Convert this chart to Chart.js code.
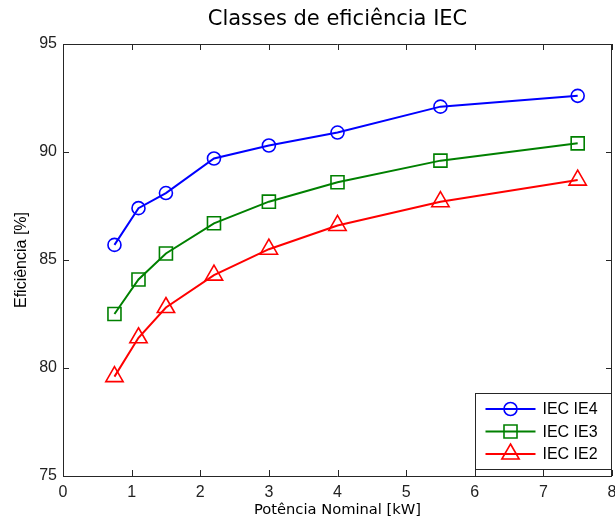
<!DOCTYPE html>
<html><head><meta charset="utf-8">
<script src="https://cdn.jsdelivr.net/npm/chart.js@4/dist/chart.umd.min.js"></script>
<style>html,body{margin:0;padding:0;background:#fff}</style>
</head><body>
<canvas id="c" width="615" height="520"></canvas>
<script>
const powerKW = [0.75, 1.1, 1.5, 2.2, 3, 4, 5.5, 7.5];
const ie4 = [85.7, 87.4, 88.1, 89.7, 90.3, 90.9, 92.1, 92.6];
const ie3 = [82.5, 84.1, 85.3, 86.7, 87.7, 88.6, 89.6, 90.4];
const ie2 = [79.6, 81.4, 82.8, 84.3, 85.5, 86.6, 87.7, 88.7];
const seriesNames = ['IEC IE4', 'IEC IE3', 'IEC IE2'];
const xTicks = [0, 1, 2, 3, 4, 5, 6, 7, 8];
const yTicks = [75, 80, 85, 90, 95];

const toPts = arr => powerKW.map((x, i) => ({x: x, y: arr[i]}));
const styles = [
  {color: '#0000ff', style: 'circle', r: 6.5},
  {color: '#008000', style: 'rect', r: 9.2},
  {color: '#ff0000', style: 'triangle', r: 10}
];
const seriesData = [ie4, ie3, ie2];

const datasets = seriesData.map((arr, i) => ({
  label: seriesNames[i],
  data: toPts(arr),
  borderColor: styles[i].color,
  borderWidth: 2,
  pointStyle: styles[i].style,
  pointRadius: styles[i].r,
  pointHoverRadius: styles[i].r,
  pointBorderColor: styles[i].color,
  pointBorderWidth: 1.6,
  pointBackgroundColor: 'rgba(0,0,0,0)',
  tension: 0,
  fill: false,
  clip: false
}));

function drawMarker(ctx, style, x, y, r) {
  ctx.beginPath();
  if (style === 'circle') {
    ctx.arc(x, y, r, 0, Math.PI * 2);
  } else if (style === 'rect') {
    const s = Math.SQRT1_2 * r;
    ctx.rect(x - s, y - s, 2 * s, 2 * s);
  } else {
    let a = 0;
    ctx.moveTo(x + Math.sin(a) * r, y - Math.cos(a) * r);
    a += 2 * Math.PI / 3;
    ctx.lineTo(x + Math.sin(a) * r, y - Math.cos(a) * r);
    a += 2 * Math.PI / 3;
    ctx.lineTo(x + Math.sin(a) * r, y - Math.cos(a) * r);
    ctx.closePath();
  }
  ctx.stroke();
}

const boxPlugin = {
  id: 'boxPlugin',
  afterDatasetsDraw(chart) {
    const {ctx, chartArea: a, scales} = chart;
    ctx.save();
    ctx.strokeStyle = '#262626';
    ctx.lineWidth = 1;
    ctx.beginPath();
    ctx.rect(Math.round(a.left) + 0.5, Math.round(a.top) + 0.5,
             Math.round(a.right - a.left) - 1, Math.round(a.bottom - a.top));
    ctx.stroke();
    const tl = 6;
    ctx.beginPath();
    xTicks.forEach(v => {
      const px = Math.round(scales.x.getPixelForValue(v)) + 0.5;
      ctx.moveTo(px, a.bottom); ctx.lineTo(px, a.bottom - tl);
      ctx.moveTo(px, a.top); ctx.lineTo(px, a.top + tl);
    });
    yTicks.forEach(v => {
      const py = Math.round(scales.y.getPixelForValue(v)) + 0.5;
      ctx.moveTo(a.left, py); ctx.lineTo(a.left + tl, py);
      ctx.moveTo(a.right, py); ctx.lineTo(a.right - tl, py);
    });
    ctx.stroke();
    ctx.restore();
  },
  afterDraw(chart) {
    const {ctx, chartArea: a} = chart;
    const bw = 136, bh = 76;
    const bx = Math.round(a.right) - bw - 0.5, by = Math.round(a.bottom) - 7 - bh + 0.5;
    ctx.save();
    ctx.fillStyle = '#ffffff';
    ctx.fillRect(bx, by, bw, bh);
    ctx.strokeStyle = '#262626';
    ctx.lineWidth = 1;
    ctx.strokeRect(bx, by, bw, bh);
    ctx.font = '16px "Liberation Sans", Arial, sans-serif';
    ctx.textBaseline = 'middle';
    ctx.textAlign = 'left';
    chart.data.datasets.forEach((ds, i) => {
      const cy = by + 15.5 + i * 22.5;
      ctx.strokeStyle = ds.borderColor;
      ctx.lineWidth = 2;
      ctx.beginPath();
      ctx.moveTo(bx + 10, cy); ctx.lineTo(bx + 60, cy);
      ctx.stroke();
      ctx.lineWidth = 1.6;
      drawMarker(ctx, ds.pointStyle, bx + 35, cy, ds.pointRadius);
      ctx.fillStyle = '#000';
      ctx.fillText(ds.label, bx + 67, cy + 1);
    });
    ctx.restore();
  }
};

new Chart(document.getElementById('c'), {
  type: 'line',
  data: {datasets: datasets},
  plugins: [boxPlugin],
  options: {
    responsive: false,
    devicePixelRatio: 1,
    animation: false,
    layout: {autoPadding: false, padding: {top: 0, right: 3, left: 0, bottom: 0}},
    plugins: {
      legend: {display: false},
      tooltip: {enabled: false},
      title: {
        display: true,
        fullSize: false,
        text: 'Classes de eficiência IEC',
        color: '#000',
        font: {family: '"DejaVu Sans", sans-serif', size: 21, weight: 'normal'},
        padding: {top: 7, bottom: 11.8}
      }
    },
    scales: {
      x: {
        type: 'linear', min: 0, max: 8,
        afterBuildTicks: s => { s.ticks = xTicks.map(v => ({value: v})); },
        afterFit: s => { s.height = 44; s.paddingLeft = 0; s.paddingRight = 0; },
        grid: {display: false, drawTicks: false},
        border: {display: false},
        ticks: {color: '#222', padding: 7,
          font: {family: '"Liberation Sans", Arial, sans-serif', size: 16}},
        title: {display: true, text: 'Potência Nominal [kW]', color: '#000',
          font: {family: '"DejaVu Sans", sans-serif', size: 14.7},
          padding: {top: 0, bottom: 1}}
      },
      y: {
        type: 'linear', min: 75, max: 95,
        afterBuildTicks: s => { s.ticks = yTicks.map(v => ({value: v})); },
        afterFit: s => { s.width = 63; s.paddingTop = 0; s.paddingBottom = 0; },
        grid: {display: false, drawTicks: false},
        border: {display: false},
        ticks: {color: '#222', padding: 6,
          font: {family: '"Liberation Sans", Arial, sans-serif', size: 16}},
        title: {display: true, text: 'Eficiência [%]', color: '#000',
          font: {family: '"Liberation Sans", Arial, sans-serif', size: 16},
          padding: {top: 12, bottom: 0}}
      }
    }
  }
});
</script>
</body></html>
